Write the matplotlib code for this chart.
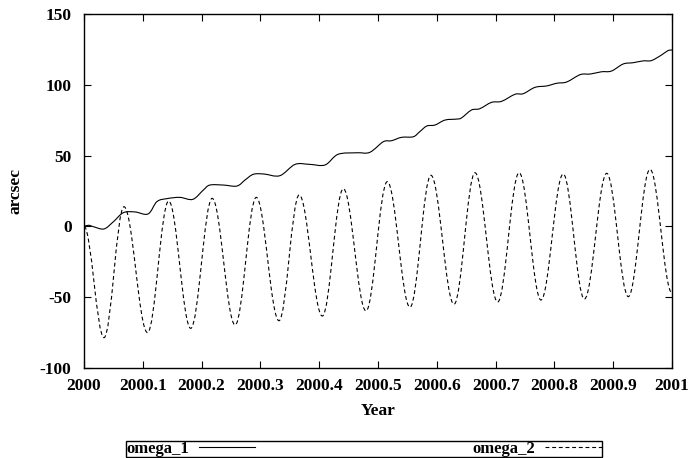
import numpy as np
import matplotlib
matplotlib.use("Agg")
import matplotlib.pyplot as plt
from matplotlib.path import Path
from matplotlib.patches import PathPatch
from matplotlib.lines import Line2D

# omega_1: slow drift with monthly steps
OMEGA1_YEAR = [2000.000, 2000.008, 2000.016, 2000.034, 2000.050, 2000.067, 2000.087, 2000.109,
               2000.124, 2000.141, 2000.163, 2000.185, 2000.203, 2000.214, 2000.237, 2000.260,
               2000.274, 2000.288, 2000.306, 2000.333, 2000.359, 2000.384, 2000.410, 2000.432,
               2000.464, 2000.486, 2000.509, 2000.523, 2000.540, 2000.560, 2000.571, 2000.583,
               2000.597, 2000.614, 2000.634, 2000.642, 2000.659, 2000.673, 2000.693, 2000.710,
               2000.733, 2000.747, 2000.767, 2000.787, 2000.804, 2000.821, 2000.844, 2000.861,
               2000.880, 2000.897, 2000.917, 2000.934, 2000.951, 2000.965, 2000.982, 2000.993,
               2001.000]
OMEGA1_VAL = [0.0, 0.8, -0.2, -1.8, 3.3, 9.7, 10.2, 8.8,
              17.5, 19.6, 20.5, 19.1, 25.7, 29.2, 29.2, 28.5,
              32.8, 36.8, 37.0, 35.8, 43.8, 43.8, 43.4, 50.9,
              52.0, 52.3, 59.8, 60.5, 62.9, 63.3, 66.9, 70.9,
              71.6, 75.1, 75.8, 76.6, 82.2, 83.1, 87.6, 88.3,
              93.3, 93.7, 98.2, 99.2, 101.1, 102.0, 107.2, 107.6,
              109.2, 109.7, 114.7, 115.6, 116.9, 117.1, 121.0, 124.1,
              124.6]

# omega_2: successive peaks / troughs of the monthly oscillation
OMEGA2_YEAR = [2000.000, 2000.034, 2000.068, 2000.108, 2000.144, 2000.1815, 2000.218,
               2000.257, 2000.293, 2000.3316, 2000.366, 2000.4053, 2000.441, 2000.4796,
               2000.5158, 2000.5544, 2000.590, 2000.6293, 2000.665, 2000.7035, 2000.740,
               2000.7772, 2000.815, 2000.851, 2000.889, 2000.9257, 2000.9626, 2001.000]
OMEGA2_VAL = [0.0, -78.6, 13.9, -75.0, 17.9, -72.0, 19.8,
              -69.6, 20.5, -66.6, 22.2, -63.3, 26.6, -59.7,
              31.6, -57.1, 36.1, -55.0, 37.9, -53.4, 37.9,
              -52.0, 37.0, -51.3, 37.5, -49.6, 40.3, -47.0]

XTICKS = [2000, 2000.1, 2000.2, 2000.3, 2000.4, 2000.5, 2000.6, 2000.7, 2000.8, 2000.9, 2001]
YTICKS = [-100, -50, 0, 50, 100, 150]

plt.rcParams["font.family"] = ["Liberation Serif", "DejaVu Serif"]
plt.rcParams["font.weight"] = "bold"
plt.rcParams["font.size"] = 12.5
plt.rcParams["axes.unicode_minus"] = False

DASH = (0, (3.5, 2.5))
LW = 0.8


def extrema_path(xs, ys, k=0.3634):
    # half-cosine between neighbouring extrema, as cubic Bezier pieces
    verts = [(xs[0], ys[0])]
    codes = [Path.MOVETO]
    for i in range(len(xs) - 1):
        x0, y0, x1, y1 = xs[i], ys[i], xs[i + 1], ys[i + 1]
        dx = x1 - x0
        verts += [(x0 + k * dx, y0), (x1 - k * dx, y1), (x1, y1)]
        codes += [Path.CURVE4] * 3
    return Path(verts, codes)


def smooth_path(xs, ys):
    # Catmull-Rom through the read points, drawn as Bezier pieces
    p = np.column_stack([xs, ys])
    p = np.vstack([p[0], p, p[-1]])
    verts = [tuple(p[1])]
    codes = [Path.MOVETO]
    for i in range(1, len(p) - 2):
        c1 = p[i] + (p[i + 1] - p[i - 1]) / 6
        c2 = p[i + 1] - (p[i + 2] - p[i]) / 6
        verts += [tuple(c1), tuple(c2), tuple(p[i + 1])]
        codes += [Path.CURVE4] * 3
    return Path(verts, codes)


fig = plt.figure(figsize=(6.89, 4.58), dpi=100)
ax = fig.add_axes([84 / 689, 1 - 368 / 458, 588 / 689, 354 / 458])

ax.add_patch(PathPatch(smooth_path(OMEGA1_YEAR, OMEGA1_VAL), fill=False,
                       edgecolor="black", lw=LW, zorder=3))
ax.add_patch(PathPatch(extrema_path(OMEGA2_YEAR, OMEGA2_VAL), fill=False,
                       edgecolor="black", lw=LW, linestyle=DASH, zorder=2))

ax.set_xlim(2000, 2001)
ax.set_ylim(-100, 150)
ax.set_xticks(XTICKS)
ax.set_xticklabels([f"{v:g}" for v in XTICKS])
ax.set_yticks(YTICKS)
ax.tick_params(direction="in", top=True, right=True, length=5, width=0.8)
ax.tick_params(axis="x", pad=7)
ax.tick_params(axis="y", pad=9)
for s in ax.spines.values():
    s.set_linewidth(1.0)

ax.set_xlabel("Year", fontweight="bold", labelpad=7)
ax.set_ylabel("arcsec", fontweight="bold", labelpad=12)

handles = [Line2D([], [], color="black", lw=LW),
           Line2D([], [], color="black", lw=LW, linestyle=DASH)]
leg = fig.legend(handles, ["omega_1", "omega_2"], ncol=2, mode="expand",
                 loc="lower left", bbox_to_anchor=(126 / 689, 1 / 458, 476 / 689, 14 / 458),
                 borderaxespad=0, markerfirst=False, frameon=True, fancybox=False,
                 edgecolor="black", framealpha=1, handlelength=3.4, handletextpad=0.6,
                 borderpad=0.0, fontsize=12)
leg.get_frame().set_linewidth(1.0)

fig.savefig("out.png", dpi=100)
